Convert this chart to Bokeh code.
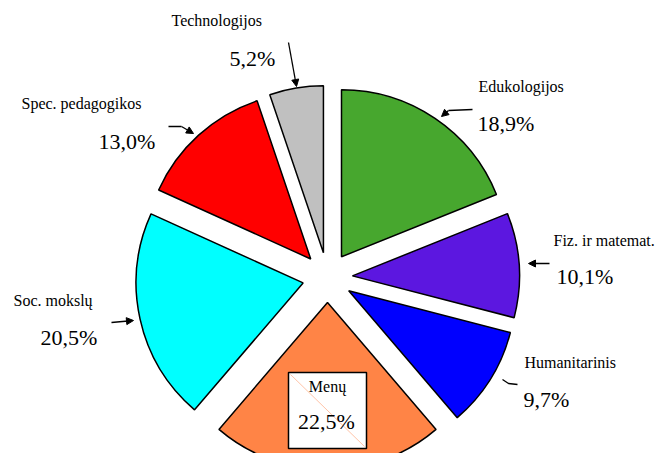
import numpy as np
from bokeh.plotting import figure
from bokeh.models import Range1d, Arrow, NormalHead
from bokeh.core.properties import value
from bokeh.embed import file_html
from bokeh.resources import INLINE

# ---- data ----
categories = ["Edukologijos", "Fiz. ir matemat.", "Humanitarinis", "Menų",
              "Soc. mokslų", "Spec. pedagogikos", "Technologijos"]
shares = [18.9, 10.1, 9.7, 22.5, 20.5, 13.0, 5.2]
pct_labels = ["18,9%", "10,1%", "9,7%", "22,5%", "20,5%", "13,0%", "5,2%"]
colors = ["#47a72e", "#5c17e0", "#0000ff", "#ff8446", "#00ffff", "#ff0000", "#c0c0c0"]

# ---- layout (picture pixel coordinates) ----
W, H = 655, 453
PAGE_H = 461
NAME_SHIFT = 6   # compensation of text baseline placement
PCT_SHIFT = 9


def py(y):
    return PAGE_H - y


FONT = value("Liberation Serif")
cx, cy = 327, py(277)
R = 167
EXPLODE = 25

frac = np.array(shares) / sum(shares)
ang = 2 * np.pi * frac
ends = np.pi / 2 - np.concatenate([[0], np.cumsum(ang)[:-1]])
starts = ends - ang
mids = (starts + ends) / 2
xs = cx + EXPLODE * np.cos(mids)
ys = cy + EXPLODE * np.sin(mids)

p = figure(width=W, height=H, x_range=Range1d(0, W),
           y_range=Range1d(PAGE_H - H, PAGE_H),
           x_axis_type=None, y_axis_type=None, min_border=0,
           toolbar_location=None, output_backend="svg")
p.grid.visible = False
p.outline_line_color = None
p.background_fill_color = "white"

p.wedge(x=xs, y=ys, radius=R, start_angle=starts, end_angle=ends,
        direction="anticlock", fill_color=colors, line_color="black", line_width=1.5)

# name labels (left/baseline) positions
name_pos = {
    "Edukologijos": (478, 92),
    "Fiz. ir matemat.": (553, 246),
    "Humanitarinis": (524, 368),
    "Soc. mokslų": (13, 306),
    "Spec. pedagogikos": (21, 109),
    "Technologijos": (171, 26),
}
pct_pos = {
    "Edukologijos": (477, 132),
    "Fiz. ir matemat.": (556, 285),
    "Humanitarinis": (523, 408),
    "Soc. mokslų": (40, 346),
    "Spec. pedagogikos": (98, 150),
    "Technologijos": (229, 67),
}
nx, ny, nt, px_, py_, pt = [], [], [], [], [], []
for c, lab in zip(categories, pct_labels):
    if c in name_pos:
        nx.append(name_pos[c][0]); ny.append(py(name_pos[c][1] - NAME_SHIFT)); nt.append(c)
        px_.append(pct_pos[c][0]); py_.append(py(pct_pos[c][1] - PCT_SHIFT)); pt.append(lab)

p.text(x=nx, y=ny, text=nt, text_font=FONT, text_font_size="16px",
       text_align="left", text_baseline="alphabetic", text_color="black")
p.text(x=px_, y=py_, text=pt, text_font=FONT, text_font_size="22px",
       text_align="left", text_baseline="alphabetic", text_color="black")

# Menų boxed label
mi = categories.index("Menų")
p.quad(left=288, right=366, top=py(372), bottom=py(448), fill_color="white",
       line_color="black", line_width=1.5)
p.line(x=[290, 364], y=[py(374), py(446)], line_color="#ffc4a8", line_width=1)
p.text(x=[327], y=[py(392 - NAME_SHIFT)], text=[categories[mi]], text_font=FONT,
       text_font_size="16px", text_align="center", text_baseline="alphabetic", text_color="black")
p.text(x=[326], y=[py(430 - PCT_SHIFT)], text=[pct_labels[mi]], text_font=FONT,
       text_font_size="22px", text_align="center", text_baseline="alphabetic", text_color="black")


def arrow(x0, y0, x1, y1):
    p.add_layout(Arrow(x_start=x0, y_start=py(y0), x_end=x1, y_end=py(y1),
                       line_width=1.3, line_color="black",
                       end=NormalHead(size=7, fill_color="black", line_color="black", line_width=1)))


# leader lines / arrows
arrow(288, 42, 296, 86)
p.line(x=[472, 448], y=[py(109), py(110)], line_color="black", line_width=1.3)
arrow(448, 110, 441, 116)
arrow(549, 263, 528, 263)
p.line(x=[517, 508, 502], y=[py(384), py(383), py(379)], line_color="black", line_width=1.3)
arrow(111, 322, 133, 320)
p.line(x=[168, 181], y=[py(126), py(126)], line_color="black", line_width=1.3)
arrow(181, 126, 193, 133)

open("out.html", "w").write(file_html(p, INLINE))
